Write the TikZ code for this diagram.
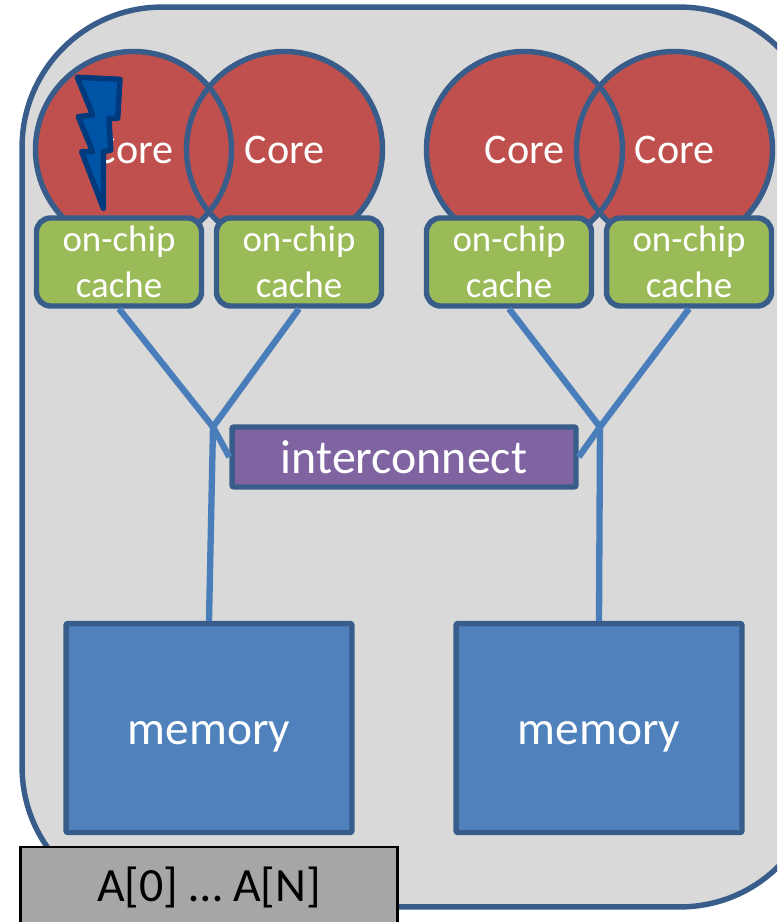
\documentclass[tikz,border=0pt]{standalone}
\usepackage{fontspec}
\setmainfont{Carlito}
\definecolor{edgeblue}{HTML}{385D8A}
\definecolor{wireblue}{HTML}{4A7EBB}
\definecolor{corered}{HTML}{C0504D}
\definecolor{cachegreen}{HTML}{9BBB59}
\definecolor{netpurple}{HTML}{8064A2}
\definecolor{memblue}{HTML}{4F81BD}
\definecolor{boltfill}{HTML}{0054A6}
\definecolor{boltedge}{HTML}{003A7D}
\tikzset{
  corefill/.style={circle,fill=corered,minimum size=3.92cm,inner sep=0pt,text=white,font=\fontsize{24}{28}\selectfont},
  coreedge/.style={draw=edgeblue,line width=3.1pt},
  cachebox/.style={draw=edgeblue,line width=3.1pt,fill=cachegreen,rounded corners=0.28cm,minimum width=3.3cm,minimum height=1.76cm,inner sep=0pt,text=white,align=center,font=\fontsize{21}{26}\selectfont},
  netbox/.style={draw=edgeblue,line width=3.1pt,fill=netpurple,rounded corners=0.04cm,minimum width=6.88cm,minimum height=1.2cm,inner sep=0pt,text=white,font=\fontsize{27.2}{32}\selectfont},
  membox/.style={draw=edgeblue,line width=3.1pt,fill=memblue,rounded corners=0.04cm,minimum width=5.72cm,minimum height=4.18cm,inner sep=0pt,text=white,text height=19.3pt,text depth=0pt,font=\fontsize{27}{32}\selectfont},
  arraybox/.style={draw=black,line width=1.2pt,fill=black!35,minimum width=7.54cm,minimum height=1.6cm,inner sep=0pt,font=\fontsize{27.2}{32}\selectfont},
  wire/.style={draw=wireblue,line width=3.6pt},
  bolt/.style={draw=boltedge,fill=boltfill,line width=3.1pt,line join=round},
}
\begin{document}
\begin{tikzpicture}[x=0.02cm,y=-0.02cm]
\clip (0,0) rectangle (777,922);
\node[draw=edgeblue,line width=3.1pt,fill=black!15,rounded corners=2.8cm,minimum width=15.96cm,minimum height=18cm,inner sep=0pt] (chip) at (421,457) {};
\node[corefill] (core1) at (133.5,149.5) {Core};
\node[corefill] (core2) at (284.5,149.5) {Core};
\node[corefill] (core3) at (524.5,149.5) {Core};
\node[corefill] (core4) at (674.5,149.5) {Core};
\draw[coreedge] (core1) circle (98);
\draw[coreedge] (core2) circle (98);
\draw[coreedge] (core3) circle (98);
\draw[coreedge] (core4) circle (98);
\node[cachebox] (cache1) at (119,262) {on-chip\\cache};
\node[cachebox] (cache2) at (299,262) {on-chip\\cache};
\node[cachebox] (cache3) at (509,262) {on-chip\\cache};
\node[cachebox] (cache4) at (689,262) {on-chip\\cache};
\node[netbox] (net) at (404,457) {interconnect};
\node[membox] (mem1) at (209,728) {memory};
\node[membox] (mem2) at (599,728) {memory};
\node[arraybox] (arr) at (209,887) {A[0] … A[N]};
\coordinate (joinl) at (213,427);
\coordinate (joinr) at (600,427);
\draw[wire] (cache1.south) to (joinl);
\draw[wire] (cache2.south) to (joinl);
\draw[wire] (joinl) to (net.west);
\draw[wire] (joinl) to (mem1.north);
\draw[wire] (cache3.south) to (joinr);
\draw[wire] (cache4.south) to (joinr);
\draw[wire] (joinr) to (net.east);
\draw[wire] (joinr) to (mem2.north);
\draw[bolt] (77.3,77.3) -- (120,79.3) -- (117.7,118.3) -- (109,118.3) -- (110.7,150) -- (103.3,151.7) -- (103.3,208.3) -- (81.7,151.7) -- (92.7,151.7) -- (78.3,116.7) -- (92.7,115) -- cycle;
\end{tikzpicture}
\end{document}
